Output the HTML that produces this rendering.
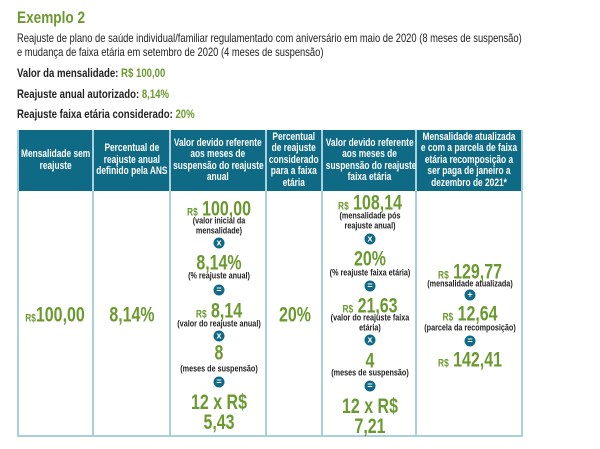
<!DOCTYPE html>
<html><head><meta charset="utf-8"><style>
body{margin:0;width:600px;height:449px;background:#fff;position:relative;overflow:hidden;font-family:"Liberation Sans",sans-serif;color:#222}
.a{position:absolute;white-space:nowrap;transform:scaleX(.8);transform-origin:left top}
.t{position:absolute;transform:translate(-50%,-50%) scaleX(.76);white-space:nowrap;text-align:center;line-height:1}
.g{color:#6a9a2f;font-weight:bold;font-size:21px}
.g small{font-size:11px}
.c{font-size:9.5px;font-weight:bold;color:#222}
.i{position:absolute;width:11px;height:11px;border-radius:50%;background:#0f6a85;color:#fff;font-size:9px;font-weight:bold;line-height:11px;text-align:center;transform:translate(-50%,-50%)}
.h{position:absolute;top:130px;height:61px;background:#0f6a85;color:#fff;font-weight:bold;font-size:11px;line-height:11.5px;display:flex;align-items:center;justify-content:center;text-align:center;box-sizing:border-box;border-right:2px solid #a8cfdc}
.h>div{flex:none;width:125%;transform:scaleX(.76);white-space:nowrap}
.b{position:absolute;top:191px;height:246px;box-sizing:border-box;border-right:2px solid #a8cfdc;border-bottom:2px solid #a8cfdc}
</style></head><body>
<div class="a" style="left:17px;top:8px;font-size:17px;font-weight:bold;color:#6a9a2f">Exemplo 2</div>
<div class="a" style="left:17px;top:31px;font-size:12px;line-height:14px;transform:scaleX(.78)">Reajuste de plano de saúde individual/familiar regulamentado com aniversário em maio de 2020 (8 meses de suspensão)<br>e mudança de faixa etária em setembro de 2020 (4 meses de suspensão)</div>
<div class="a" style="left:17px;top:66px;font-size:12px;font-weight:bold">Valor da mensalidade: <span style="color:#6a9a2f">R$ 100,00</span></div>
<div class="a" style="left:17px;top:87px;font-size:12px;font-weight:bold">Reajuste anual autorizado: <span style="color:#6a9a2f">8,14%</span></div>
<div class="a" style="left:17px;top:107px;font-size:12px;font-weight:bold">Reajuste faixa etária considerado: <span style="color:#6a9a2f">20%</span></div>

<div class="h" style="left:17px;width:77px;border-left:2px solid #a8cfdc"><div>Mensalidade sem<br>reajuste</div></div>
<div class="h" style="left:94px;width:77px"><div>Percentual de<br>reajuste anual<br>definido pela ANS</div></div>
<div class="h" style="left:171px;width:96px"><div>Valor devido referente<br>aos meses de<br>suspensão do reajuste<br>anual</div></div>
<div class="h" style="left:267px;width:56px"><div>Percentual<br>de reajuste<br>considerado<br>para a faixa<br>etária</div></div>
<div class="h" style="left:323px;width:94px"><div>Valor devido referente<br>aos meses de<br>suspensão do reajuste<br>faixa etária</div></div>
<div class="h" style="left:417px;width:106px"><div>Mensalidade atualizada<br>e com a parcela de faixa<br>etária recomposição a<br>ser paga de janeiro a<br>dezembro de 2021*</div></div>

<div class="b" style="left:17px;width:77px;border-left:2px solid #a8cfdc"></div>
<div class="b" style="left:94px;width:77px"></div>
<div class="b" style="left:171px;width:96px"></div>
<div class="b" style="left:267px;width:56px"></div>
<div class="b" style="left:323px;width:94px"></div>
<div class="b" style="left:417px;width:106px"></div>

<div class="t g" style="left:55px;top:315px"><small>R$</small>100,00</div>
<div class="t g" style="left:132px;top:315px">8,14%</div>
<div class="t g" style="left:295px;top:315px">20%</div>

<div class="t g" style="left:219px;top:209px"><small>R$</small> 100,00</div>
<div class="t c" style="left:219px;top:226px;line-height:9.5px">(valor inicial da<br>mensalidade)</div>
<div class="i" style="left:219px;top:243px">x</div>
<div class="t g" style="left:219px;top:263px">8,14%</div>
<div class="t c" style="left:219px;top:276px">(% reajuste anual)</div>
<div class="i" style="left:219px;top:290px">=</div>
<div class="t g" style="left:219px;top:311px"><small>R$</small> 8,14</div>
<div class="t c" style="left:219px;top:324px">(valor do reajuste anual)</div>
<div class="i" style="left:219px;top:336px">x</div>
<div class="t g" style="left:219px;top:353px">8</div>
<div class="t c" style="left:219px;top:369px">(meses de suspensão)</div>
<div class="i" style="left:219px;top:382px">=</div>
<div class="t g" style="left:219px;top:413px;line-height:20px">12 x R$<br>5,43</div>

<div class="t g" style="left:370px;top:203px"><small>R$</small> 108,14</div>
<div class="t c" style="left:370px;top:221px;line-height:9.5px">(mensalidade pós<br>reajuste anual)</div>
<div class="i" style="left:370px;top:239px">x</div>
<div class="t g" style="left:370px;top:259px">20%</div>
<div class="t c" style="left:370px;top:273px">(% reajuste faixa etária)</div>
<div class="i" style="left:370px;top:286px">=</div>
<div class="t g" style="left:370px;top:306px"><small>R$</small> 21,63</div>
<div class="t c" style="left:370px;top:323px;line-height:9.5px">(valor do reajuste faixa<br>etária)</div>
<div class="i" style="left:370px;top:340px">x</div>
<div class="t g" style="left:370px;top:361px">4</div>
<div class="t c" style="left:370px;top:373px">(meses de suspensão)</div>
<div class="i" style="left:370px;top:386px">=</div>
<div class="t g" style="left:370px;top:417px;line-height:20px">12 x R$<br>7,21</div>

<div class="t g" style="left:470px;top:272px"><small>R$</small> 129,77</div>
<div class="t c" style="left:470px;top:284px">(mensalidade atualizada)</div>
<div class="i" style="left:470px;top:295px">+</div>
<div class="t g" style="left:470px;top:314px"><small>R$</small> 12,64</div>
<div class="t c" style="left:470px;top:328px">(parcela da recomposição)</div>
<div class="i" style="left:470px;top:341px">=</div>
<div class="t g" style="left:470px;top:360px"><small>R$</small> 142,41</div>
</body></html>
